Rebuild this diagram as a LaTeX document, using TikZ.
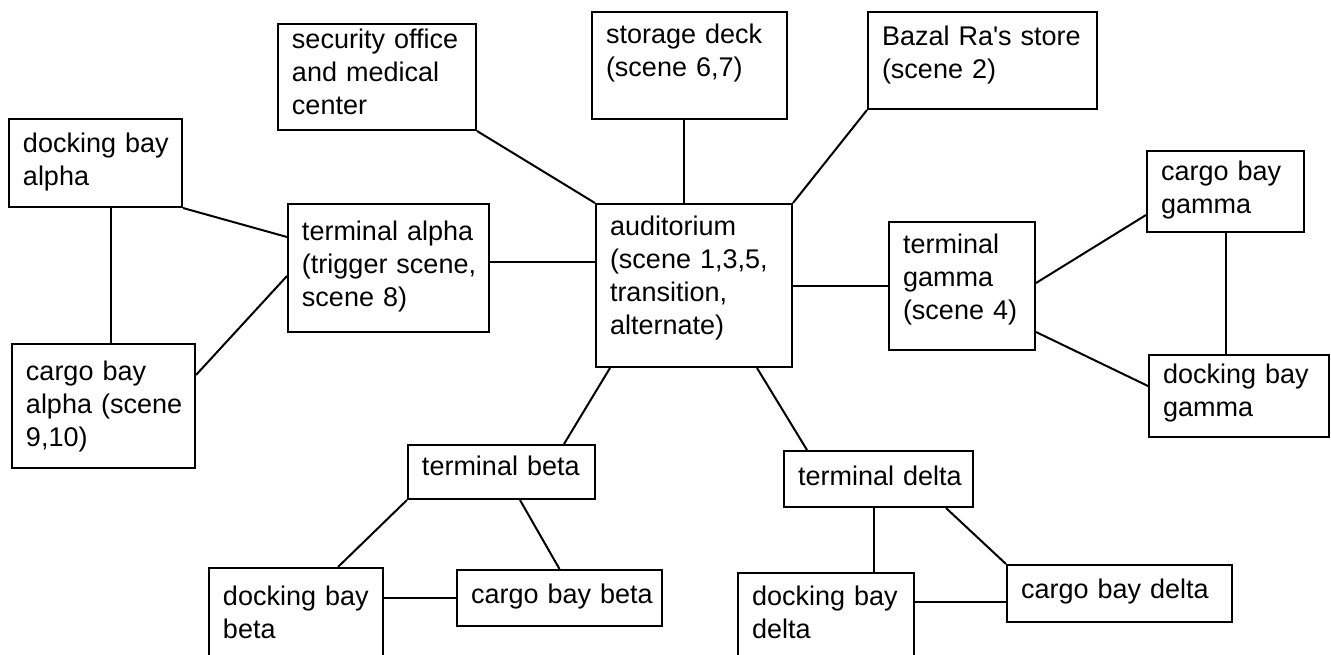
\documentclass[tikz,border=0pt]{standalone}
\usepackage{fontspec}
\setmainfont{Liberation Sans}
\usepackage{tikz}

\tikzset{
    room/.style 2 args={draw, line width=1pt, align=left, inner xsep=7pt, inner ysep=0pt,
        font=\fontsize{13.5pt}{16.5pt}\selectfont, text height=15.5pt,
        text width=#1, text depth=#2},
    conn/.style={line width=1pt}
}

\begin{document}
\begin{tikzpicture}[node distance=20pt]
        \useasboundingbox (-347pt,-184.25pt) rectangle (318.5pt,142.75pt);
        \clip (-347pt,-184.25pt) rectangle (318.5pt,142.75pt);

        \node[room={84pt}{66pt}] (aud) {auditorium\\(scene~1,3,5,\\transition,\\alternate)};
        \node[room={83.5pt}{38pt}, above of=aud, xshift=-2.25pt, yshift=90pt] (stor) {storage~deck\\(scene~6,7)};
        \node[room={85pt}{41pt}, text height=12pt, left of=stor, xshift=-136.25pt, yshift=-5.75pt] (sec) {security~office\\and~medical\\center};
        \node[room={100.5pt}{32pt}, text height=16.5pt, right of=stor, xshift=126.5pt, yshift=2.5pt] (bazal) {Bazal~Ra\textquotesingle s~store\\(scene~2)};

        \node[room={86.5pt}{46pt}, text height=18pt, left of=aud, xshift=-132.75pt, yshift=8.75pt] (ta) {terminal~alpha\\(trigger~scene,\\scene~8)};
        \node[room={72.5pt}{27.5pt}, text height=16.5pt, left of=ta, xshift=-126.5pt, yshift=52.5pt] (dba) {docking~bay\\alpha};
        \node[room={77.5pt}{44pt}, text height=18pt, below of=dba, xshift=4pt, yshift=-101.5pt] (cba) {cargo~bay\\alpha~(scene\\9,10)};

        \node[room={59pt}{48.5pt}, right of=aud, xshift=114pt, yshift=-0.25pt] (tg) {terminal\\gamma\\(scene~4)};
        \node[room={64.5pt}{26pt}, text height=14.5pt, right of=tg, xshift=111.75pt, yshift=47.25pt] (cbg) {cargo~bay\\gamma};
        \node[room={76pt}{27pt}, text height=14pt, below of=cbg, xshift=6.75pt, yshift=-82.25pt] (dbg) {docking~bay\\gamma};

        \node[room={79.5pt}{12pt}, text height=15pt, below of=aud, xshift=-96.25pt, yshift=-73.25pt] (tb) {terminal~beta};
        \node[room={80.5pt}{11pt}, text height=17pt, below of=aud, xshift=92.25pt, yshift=-76.75pt] (td) {terminal~delta};
        \node[room={73pt}{37.5pt}, text height=18.5pt, below of=tb, xshift=-102.75pt, yshift=-56pt] (dbb) {docking~bay\\beta};
        \node[room={88.5pt}{11.5pt}, text height=16.5pt, right of=dbb, xshift=111.75pt, yshift=13pt] (cbb) {cargo~bay~beta};
        \node[room={74pt}{37.5pt}, text height=16pt, below of=td, xshift=-26.25pt, yshift=-53.75pt] (dbd) {docking~bay\\delta};
        \node[room={98.5pt}{12pt}, text height=16.5pt, right of=dbd, xshift=126.75pt, yshift=16.5pt] (cbd) {cargo~bay~delta};

        \draw[conn] (sec.south east) -- (aud.north west);
        \draw[conn] ([xshift=-2.75pt]stor.south) -- ([xshift=-2.75pt]stor.south |- aud.north);
        \draw[conn] (bazal.south west) -- (aud.north east);
        \draw[conn] ([yshift=3pt]ta.east) -- ([yshift=3pt]ta.east -| aud.west);
        \draw[conn] (dba.south east) -- ([yshift=15.5pt]ta.west);
        \draw[conn] ([xshift=8pt]dba.south) -- ([xshift=8pt]dba.south |- cba.north);
        \draw[conn] ([yshift=-4pt]ta.west) -- ([yshift=15.5pt]cba.east);
        \draw[conn] (aud.east |- tg.west) -- (tg.west);
        \draw[conn] ([yshift=1.5pt]tg.east) -- ([yshift=-11.75pt]cbg.west);
        \draw[conn] ([yshift=-23pt]tg.east) -- ([yshift=5pt]dbg.west);
        \draw[conn] (cbg.south) -- (cbg.south |- dbg.north);
        \draw[conn] ([xshift=7.5pt]aud.south west) -- ([xshift=31.25pt]tb.north);
        \draw[conn] ([xshift=-18pt]aud.south east) -- ([xshift=12pt]td.north west);
        \draw[conn] (tb.south west) -- ([xshift=21pt]dbb.north);
        \draw[conn] ([xshift=9.25pt]tb.south) -- (cbb.north);
        \draw[conn] (cbb.west) -- (cbb.west -| dbb.east);
        \draw[conn] ([xshift=-2.25pt]td.south) -- ([xshift=-2.25pt]td.south |- dbd.north);
        \draw[conn] ([xshift=-14pt]td.south east) -- (cbd.north west);
        \draw[conn] ([yshift=-4.25pt]cbd.west) -- ([yshift=-4.25pt]cbd.west -| dbd.east);
    \end{tikzpicture}
\end{document}
